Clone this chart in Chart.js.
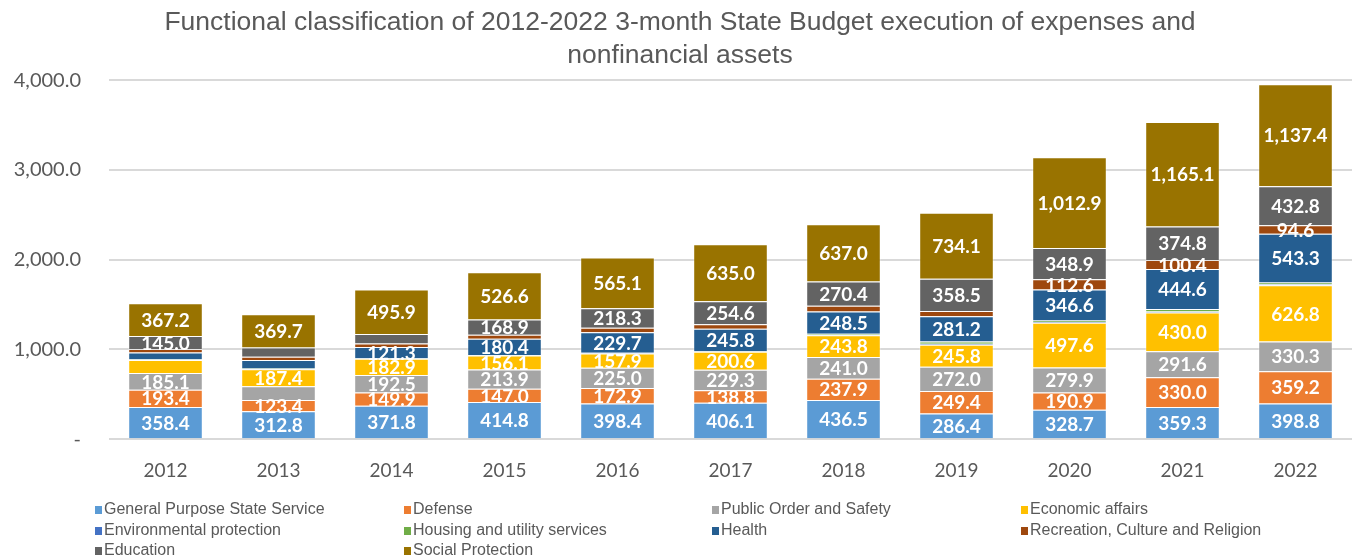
<!DOCTYPE html>
<html>
<head>
<meta charset="utf-8">
<script src="https://cdn.jsdelivr.net/npm/chart.js@4.4.1/dist/chart.umd.min.js"></script>
<style>
  html, body { margin: 0; padding: 0; background: #fff; }
  #wrap { width: 1356px; height: 557px; position: relative; }
</style>
</head>
<body>
<div id="wrap"><canvas id="budgetChart"></canvas></div>
<script>
const years = ['2012', '2013', '2014', '2015', '2016', '2017', '2018', '2019', '2020', '2021', '2022'];

// values; unlabeled thin segments are estimates
const generalService = [358.4, 312.8, 371.8, 414.8, 398.4, 406.1, 436.5, 286.4, 328.7, 359.3, 398.8];
const defense = [193.4, 123.4, 149.9, 147.0, 172.9, 138.8, 237.9, 249.4, 190.9, 330.0, 359.2];
const publicOrder = [185.1, 155.0, 192.5, 213.9, 225.0, 229.3, 241.0, 272.0, 279.9, 291.6, 330.3];
const economicAffairs = [145.0, 187.4, 182.9, 156.1, 157.9, 200.6, 243.8, 245.8, 497.6, 430.0, 626.8];
const environment = [6, 5, 4, 4, 5, 5, 5, 10, 10, 12, 12];
const housing = [5, 5, 5, 3, 3, 4, 10, 25, 15, 28, 20];
const health = [74, 93, 121.3, 180.4, 229.7, 245.8, 248.5, 281.2, 346.6, 444.6, 543.3];
const recreation = [37, 37, 40, 45, 50, 52, 65, 60, 112.6, 100.4, 94.6];
const education = [145.0, 104, 105, 168.9, 218.3, 254.6, 270.4, 358.5, 348.9, 374.8, 432.8];
const socialProtection = [367.2, 369.7, 495.9, 526.6, 565.1, 635.0, 637.0, 734.1, 1012.9, 1165.1, 1137.4];

const yTicks = [0, 1000, 2000, 3000, 4000];

// segments that carry no value label in the original
const unlabeled = ['Economic affairs:2012', 'Public Order and Safety:2013', 'Health:2013', 'Education:2013', 'Education:2014'];

const series = [
  { label: 'General Purpose State Service', data: generalService, color: '#5B9BD5' },
  { label: 'Defense', data: defense, color: '#ED7D31' },
  { label: 'Public Order and Safety', data: publicOrder, color: '#A5A5A5' },
  { label: 'Economic affairs', data: economicAffairs, color: '#FFC000' },
  { label: 'Environmental protection', data: environment, color: '#4472C4' },
  { label: 'Housing and utility services', data: housing, color: '#70AD47' },
  { label: 'Health', data: health, color: '#255E91' },
  { label: 'Recreation, Culture and Religion', data: recreation, color: '#9E480E' },
  { label: 'Education', data: education, color: '#636363' },
  { label: 'Social Protection', data: socialProtection, color: '#997300' }
];

const fmt1 = v => v.toLocaleString('en-US', { minimumFractionDigits: 1, maximumFractionDigits: 1 });

// white value labels in the middle of each segment
const segmentLabels = {
  id: 'segmentLabels',
  afterDatasetsDraw(chart) {
    const ctx = chart.ctx;
    ctx.save();
    ctx.font = 'bold 19px Lato';
    ctx.fillStyle = '#ffffff';
    ctx.textAlign = 'center';
    ctx.textBaseline = 'middle';
    chart.data.datasets.forEach((ds, i) => {
      const meta = chart.getDatasetMeta(i);
      meta.data.forEach((bar, j) => {
        const v = ds.data[j];
        if (v < 90 || unlabeled.includes(ds.label + ':' + years[j])) return;
        ctx.fillText(fmt1(v), bar.x, (bar.y + bar.base) / 2 + 1);
      });
    });
    ctx.restore();
  }
};

// legend laid out in four columns like the original
const gridLegend = {
  id: 'gridLegend',
  afterDraw(chart) {
    const ctx = chart.ctx;
    const colX = [95, 404, 712, 1021];
    const rowY = [510, 531, 551];
    ctx.save();
    ctx.font = '16px "Liberation Sans"';
    ctx.textBaseline = 'middle';
    chart.data.datasets.forEach((ds, i) => {
      const x = colX[i % 4];
      const y = rowY[Math.floor(i / 4)];
      ctx.fillStyle = ds.backgroundColor;
      ctx.fillRect(x, y - 4, 7, 8);
      ctx.fillStyle = '#595959';
      ctx.fillText(ds.label, x + 9, y);
    });
    ctx.restore();
  }
};

new Chart(document.getElementById('budgetChart'), {
  type: 'bar',
  data: {
    labels: years,
    datasets: series.map(s => ({
      label: s.label,
      data: s.data,
      backgroundColor: s.color,
      borderColor: 'rgba(255,255,255,0.35)',
      borderWidth: 1,
      categoryPercentage: 1,
      barPercentage: 0.66
    }))
  },
  options: {
    responsive: true,
    maintainAspectRatio: false,
    animation: false,
    layout: { padding: { left: 8, right: 4, top: 0, bottom: 63 } },
    plugins: {
      legend: { display: false },
      tooltip: { enabled: false },
      title: {
        display: true,
        text: ['Functional classification of 2012-2022 3-month State Budget execution of expenses and', 'nonfinancial assets'],
        color: '#595959',
        font: { family: '"Liberation Sans"', size: 26.5, weight: 'normal', lineHeight: 1.25 },
        padding: { top: 6, bottom: 8 }
      }
    },
    scales: {
      x: {
        stacked: true,
        grid: { display: false },
        border: { display: false },
        ticks: { color: '#595959', font: { family: 'Lato', size: 19 }, padding: 12 }
      },
      y: {
        stacked: true,
        min: yTicks[0],
        max: yTicks[yTicks.length - 1],
        afterBuildTicks: axis => { axis.ticks = yTicks.map(v => ({ value: v })); },
        afterFit: axis => { axis.width = 101; },
        grid: { color: '#d9d9d9', lineWidth: 2, drawTicks: false },
        border: { display: false },
        ticks: {
          color: '#595959',
          font: { family: 'Lato', size: 20 },
          padding: 28,
          callback: v => (v === 0 ? '-' : fmt1(v))
        }
      }
    }
  },
  plugins: [segmentLabels, gridLegend]
});
</script>
</body>
</html>
